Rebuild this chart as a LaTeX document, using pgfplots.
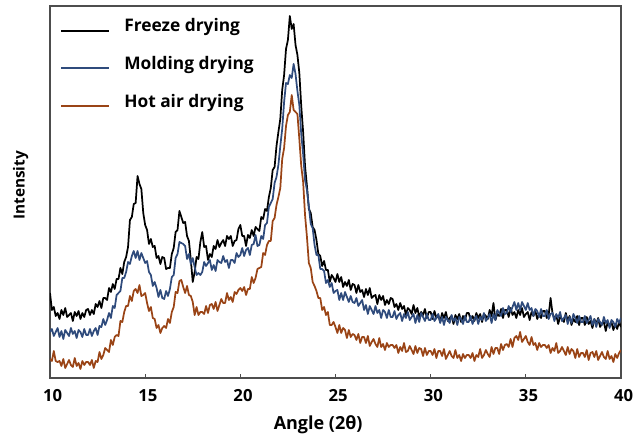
\documentclass[border=0pt]{standalone}
\usepackage{fontspec}
\setmainfont{Open Sans}
\usepackage{pgfplots}
\usepackage{pgfplotstable}
\pgfplotsset{compat=1.18}
\definecolor{molding}{HTML}{2F4B7C}
\definecolor{hotair}{HTML}{9A4416}
\definecolor{framegray}{HTML}{4D4D4D}

% x = angle (2theta), F = freeze, M = molding, H = hot air (arb. units)
\pgfplotstableread{
x F M H
10.0 85 46 19
10.1 68 49 17
10.2 71 42 27
10.3 62 46 17
10.4 65 50 16
10.5 59 41 17
10.6 68 47 12
10.7 63 39 19
10.8 70 48 10
10.9 61 45 14
11.0 63 42 18
11.1 65 50 13
11.2 57 44 11
11.3 66 47 20
11.4 62 40 12
11.5 67 48 15
11.6 59 46 9
11.7 65 41 17
11.8 61 49 13
11.9 68 43 16
12.0 69 43 16
12.1 63 49 13
12.2 68 42 18
12.3 64 47 10
12.4 74 50 17
12.5 71 43 16
12.6 77 52 26
12.7 70 51 19
12.8 80 59 23
12.9 80 53 30
13.0 78 58 28
13.1 90 65 26
13.2 86 60 38
13.3 94 72 33
13.4 89 70 41
13.5 99 83 43
13.6 99 85 42
13.7 110 87 57
13.8 104 100 56
13.9 116 100 66
14.0 121 106 72
14.1 131 116 72
14.2 158 114 82
14.3 161 122 77
14.4 174 127 87
14.5 175 120 89
14.6 202 127 85
14.7 194 118 93
14.8 189 125 82
14.9 165 120 83
15.0 153 115 85
15.1 148 117 75
15.2 134 106 67
15.3 139 103 71
15.4 131 92 60
15.5 132 96 59
15.6 120 90 50
15.7 122 81 53
15.8 114 88 45
15.9 121 80 50
16.0 120 79 52
16.1 109 87 50
16.2 110 82 59
16.3 110 89 55
16.4 124 101 66
16.5 130 103 71
16.6 146 120 86
16.7 148 124 85
16.8 167 136 97
16.9 161 135 98
17.0 155 134 91
17.1 156 132 85
17.2 142 119 92
17.3 137 124 83
17.4 118 114 82
17.5 96 120 76
17.6 106 111 63
17.7 121 103 71
17.8 119 105 63
17.9 136 103 66
18.0 146 106 66
18.1 131 116 64
18.2 132 112 72
18.3 118 115 65
18.4 124 118 73
18.5 121 108 74
18.6 132 113 69
18.7 129 107 76
18.8 138 118 67
18.9 131 116 73
19.0 135 115 79
19.1 138 122 75
19.2 132 116 75
19.3 142 118 85
19.4 139 110 78
19.5 142 118 81
19.6 132 118 76
19.7 137 115 86
19.8 138 125 84
19.9 149 121 88
20.0 153 123 90
20.1 142 130 87
20.2 142 122 91
20.3 132 128 83
20.4 143 130 89
20.5 140 123 89
20.6 148 133 101
20.7 142 134 95
20.8 151 143 100
20.9 149 132 109
21.0 147 133 110
21.1 161 142 111
21.2 159 139 125
21.3 169 153 123
21.4 167 155 133
21.5 181 171 137
21.6 190 175 137
21.7 208 179 157
21.8 211 195 160
21.9 232 201 173
22.0 246 213 181
22.1 259 232 190
22.2 288 249 219
22.3 303 276 230
22.4 329 295 252
22.5 338 294 263
22.6 362 303 266
22.7 349 300 283
22.8 354 314 268
22.9 333 304 266
23.0 323 287 264
23.1 305 273 239
23.2 272 244 212
23.3 246 224 196
23.4 212 198 163
23.5 192 188 141
23.6 169 172 115
23.7 165 154 110
23.8 151 150 96
23.9 148 133 92
24.0 138 123 87
24.1 124 123 80
24.2 122 109 80
24.3 112 109 68
24.4 117 107 71
24.5 108 95 63
24.6 108 98 66
24.7 96 91 53
24.8 103 95 53
24.9 100 85 56
25.0 96 87 51
25.1 104 88 45
25.2 96 78 53
25.3 101 85 45
25.4 91 78 50
25.5 96 86 48
25.6 92 81 40
25.7 98 76 48
25.8 88 82 41
25.9 94 76 44
26.0 93 75 43
26.1 85 80 38
26.2 93 72 44
26.3 86 75 35
26.4 88 78 41
26.5 81 68 41
26.6 89 73 35
26.7 83 64 42
26.8 90 72 32
26.9 80 68 36
27.0 82 64 39
27.1 83 72 34
27.2 74 65 31
27.3 83 68 40
27.4 78 60 31
27.5 82 68 34
27.6 73 66 28
27.7 78 60 35
27.8 74 68 31
27.9 80 61 33
28.0 79 61 33
28.1 71 67 30
28.2 74 59 33
28.3 68 63 25
28.4 75 65 31
28.5 69 57 27
28.6 72 64 35
28.7 63 60 26
28.8 70 66 27
28.9 68 58 32
29.0 64 61 28
29.1 73 64 24
29.2 65 55 32
29.3 70 63 25
29.4 61 56 30
29.5 66 65 29
29.6 63 61 22
29.7 69 57 30
29.8 60 64 23
29.9 66 58 27
30.0 66 58 27
30.1 59 64 23
30.2 67 57 29
30.3 60 60 20
30.4 63 64 27
30.5 56 55 27
30.6 65 61 22
30.7 60 53 29
30.8 66 61 19
30.9 57 58 23
31.0 60 55 27
31.1 62 63 22
31.2 54 57 20
31.3 63 60 28
31.4 59 53 20
31.5 64 61 23
31.6 56 59 17
31.7 62 54 24
31.8 58 62 20
31.9 65 56 23
32.0 65 56 23
32.1 58 62 20
32.2 62 54 25
32.3 57 59 17
32.4 65 62 23
32.5 60 54 21
32.6 64 61 29
32.7 56 58 20
32.8 64 65 23
32.9 62 57 28
33.0 59 60 24
33.1 68 64 21
33.2 62 55 31
33.3 75 64 24
33.4 58 58 30
33.5 64 68 30
33.6 62 65 24
33.7 69 62 34
33.8 60 70 28
33.9 68 64 33
34.0 68 65 34
34.1 61 72 31
34.2 70 66 39
34.3 63 71 31
34.4 66 76 40
34.5 60 68 42
34.6 68 75 38
34.7 63 68 46
34.8 70 76 36
34.9 61 72 39
35.0 64 68 42
35.1 66 75 36
35.2 58 68 33
35.3 66 70 41
35.4 62 62 33
35.5 67 69 35
35.6 59 67 28
35.7 64 61 35
35.8 60 69 31
35.9 67 62 33
36.0 67 62 33
36.1 60 68 30
36.2 63 59 33
36.3 80 64 25
36.4 65 65 30
36.5 59 57 27
36.6 63 64 35
36.7 54 60 25
36.8 61 66 27
36.9 59 57 31
37.0 56 60 27
37.1 65 63 23
37.2 57 54 31
37.3 62 61 24
37.4 53 55 29
37.5 59 64 27
37.6 56 60 20
37.7 62 55 29
37.8 53 62 21
37.9 60 56 25
38.0 60 56 25
38.1 53 62 21
38.2 61 55 28
38.3 54 58 18
38.4 57 62 25
38.5 50 53 26
38.6 59 59 21
38.7 54 51 27
38.8 60 59 18
38.9 51 56 22
39.0 54 53 26
39.1 56 61 21
39.2 47 55 19
39.3 56 58 27
39.4 52 50 19
39.5 56 58 22
39.6 48 56 16
39.7 54 51 24
39.8 49 59 20
39.9 56 55 25
40.0 51 60 28
}\xrd

\begin{document}
\begin{tikzpicture}
\useasboundingbox (-37.5pt,-45.75pt) rectangle (440.25pt,283.5pt);
\begin{axis}[
  scale only axis,
  width=428.25pt, height=279pt,
  xmin=10, xmax=40, ymin=0, ymax=372,
  xtick={10,15,...,40}, ytick=\empty,
  xtick pos=bottom, tick align=inside,
  major tick length=3pt,
  axis line style={framegray, line width=0.8pt},
  tick style={framegray, line width=0.8pt},
  /pgf/number format/assume math mode=true,
  xticklabel style={font=\bfseries\fontsize{12.5}{15}\selectfont, anchor=center, yshift=-13.5pt, xshift=2pt},
  xlabel={Angle (2θ)},
  ylabel={Intensity},
  xlabel style={font=\bfseries\fontsize{13.5}{16}\selectfont, at={(axis description cs:0.5,0)}, anchor=center, yshift=-35.25pt, xshift=-13pt},
  ylabel style={font=\bfseries\fontsize{11.5}{14}\selectfont, at={(axis description cs:0,0.5)}, anchor=center, yshift=22pt, xshift=5pt},
  legend cell align=left,
  legend style={
    at={(axis description cs:0,1)}, anchor=north west,
    xshift=7.5pt, yshift=-9pt,
    draw=none, fill=none, inner sep=0pt,
    font=\bfseries\fontsize{13}{15}\selectfont,
    row sep=17pt, column sep=10.5pt,
    nodes={inner sep=0pt}
  },
  legend image code/.code={\draw[#1, line width=1.5pt] (0pt,-3.5pt) -- (36pt,-3.5pt);},
  every axis plot/.append style={line width=1.3pt, line join=round}
]
\addplot[black] table[x=x, y=F] {\xrd};
\addlegendentry{Freeze drying}
\addplot[molding] table[x=x, y=M] {\xrd};
\addlegendentry{Molding drying}
\addplot[hotair] table[x=x, y=H] {\xrd};
\addlegendentry{Hot air drying}
\end{axis}
\end{tikzpicture}
\end{document}
